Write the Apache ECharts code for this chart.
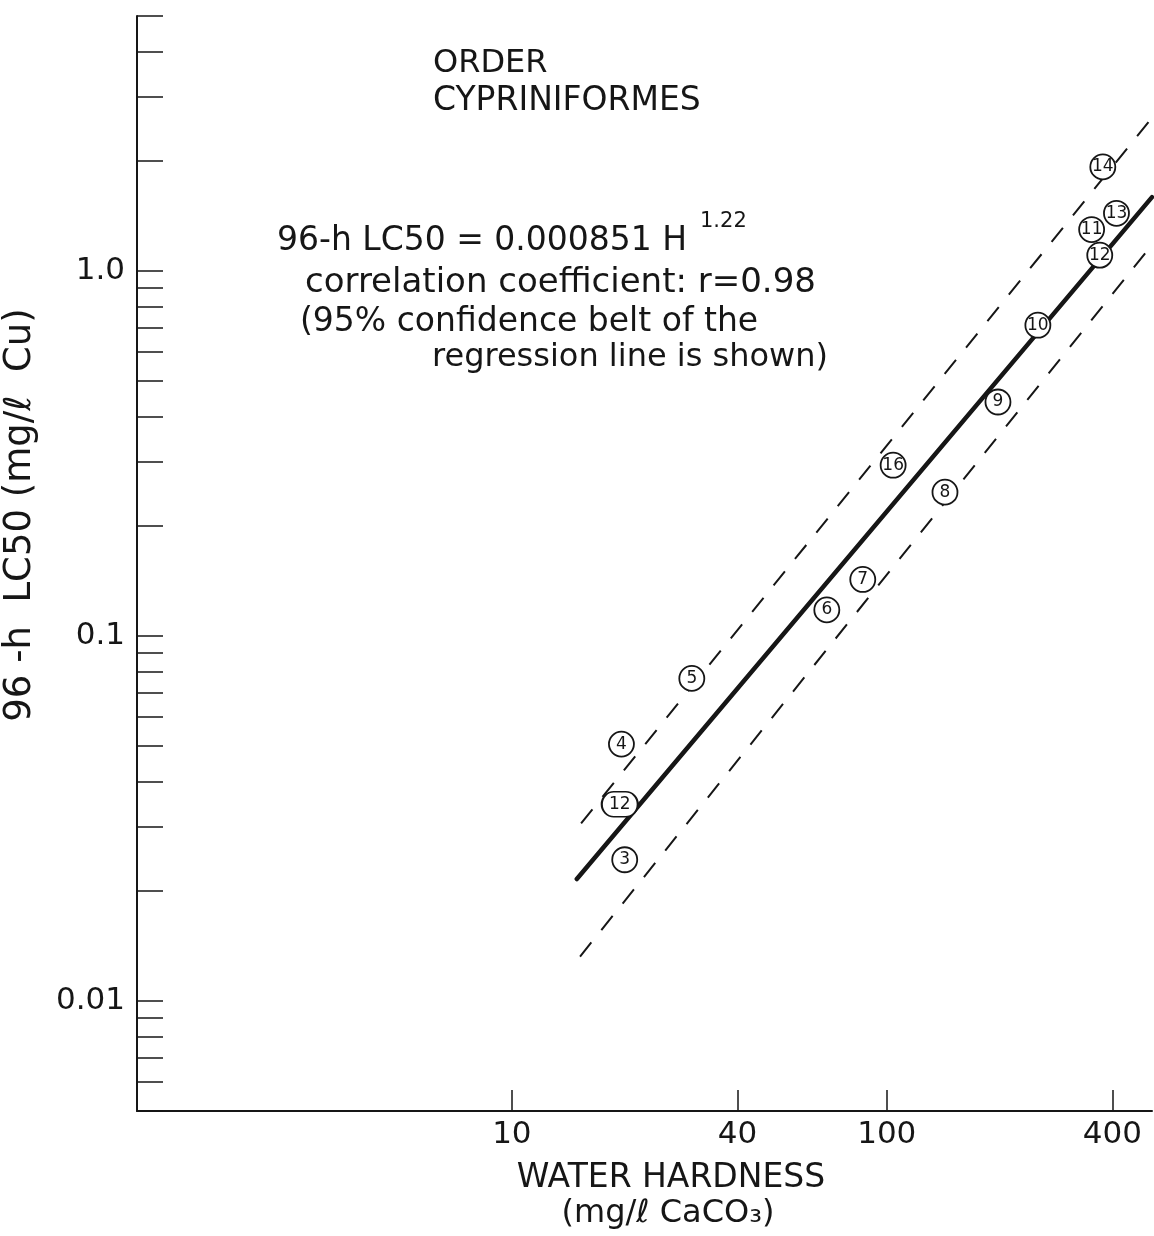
<!DOCTYPE html>
<html><head><meta charset="utf-8">
<script src="https://cdn.jsdelivr.net/npm/echarts@6/dist/echarts.min.js"></script>
<style>html,body{margin:0;padding:0;background:#fff}#c{width:1154px;height:1236px}</style>
</head><body><div id="c"></div>
<script>
// ---- data ----
const hardness = [20.0, 19.6, 30.2, 69.2, 86.3, 143, 198, 253, 352, 19.4, 370, 410, 377, 104];
const lc50 = [0.0244, 0.0506, 0.0766, 0.118, 0.143, 0.248, 0.438, 0.711, 1.30, 0.0346, 1.106, 1.44, 1.93, 0.294];
const pointIds = ['3', '4', '5', '6', '7', '8', '9', '10', '11', '12', '12', '13', '14', '16'];
const regressionLine = [[14.9, 0.0216], [510, 1.595]];
const upperBelt = [[15.3, 0.0307], [502, 2.58]];
const lowerBelt = [[15.2, 0.01325], [510, 1.18]];
const xTickValues = [10, 40, 100, 400];
const yLabelValues = [0.01, 0.1, 1];
const yTickValues = [0.005, 0.006, 0.007, 0.008, 0.009, 0.01, 0.02, 0.03, 0.04, 0.05, 0.06, 0.07, 0.08, 0.09,
  0.1, 0.2, 0.3, 0.4, 0.5, 0.6, 0.7, 0.8, 0.9, 1, 2, 3, 4, 5];
const yLabelText = {'0.01': '0.01', '0.1': '0.1', '1': '1.0'};

const FONT = "'DejaVu Sans', sans-serif";
const INK = '#161616';
// stadium-shaped marker (two merged circles) for the wide "12" label
const stadium = 'path://M12,0 L24,0 C30.63,0 36,5.37 36,12 C36,18.63 30.63,24 24,24 L12,24 C5.37,24 0,18.63 0,12 C0,5.37 5.37,0 12,0 Z';

const chart = echarts.init(document.getElementById('c'));
const scatterData = hardness.map((h, i) => {
  const d = {value: [h, lc50[i]], name: pointIds[i]};
  if (i === 9) { d.symbol = stadium; d.symbolSize = [36, 25]; }
  return d;
});

const txt = (x, y, text, size, align) => ({
  type: 'text', x, y,
  style: {text, font: `${size}px ${FONT}`, fill: INK, align: align || 'left', verticalAlign: 'middle',
    textAlign: align || 'left', textVerticalAlign: 'middle'}
});

chart.setOption({
  animation: false,
  backgroundColor: '#fff',
  grid: {left: 137, right: 2, top: 16, bottom: 125, containLabel: false},
  xAxis: {
    type: 'log', logBase: 10, min: 1, max: 510,
    axisLine: {show: true, lineStyle: {color: INK, width: 2}},
    axisTick: {show: true, inside: true, length: 21, customValues: xTickValues, lineStyle: {color: INK, width: 1.5}},
    axisLabel: {show: true, customValues: xTickValues, margin: 8, fontFamily: FONT, fontSize: 31, color: INK,
      formatter: v => String(Math.round(v))},
    splitLine: {show: false}, minorTick: {show: false}
  },
  yAxis: {
    type: 'log', logBase: 10, min: 0.005, max: 5,
    axisLine: {show: true, lineStyle: {color: INK, width: 2}},
    axisTick: {show: true, inside: true, length: 26, customValues: yTickValues, lineStyle: {color: INK, width: 1.5}},
    axisLabel: {show: true, customValues: yLabelValues, margin: 12, fontFamily: FONT, fontSize: 31, color: INK,
      formatter: v => {
        const k = String(+(+v).toPrecision(3));
        return yLabelText[k] !== undefined ? yLabelText[k] : k;
      }},
    splitLine: {show: false}, minorTick: {show: false}
  },
  series: [
    {type: 'line', data: regressionLine, symbol: 'none', lineStyle: {color: INK, width: 4.5, cap: 'round'}, z: 2, silent: true},
    {type: 'line', data: upperBelt, symbol: 'none', lineStyle: {color: INK, width: 2, type: [18, 16]}, z: 2, silent: true},
    {type: 'line', data: lowerBelt, symbol: 'none', lineStyle: {color: INK, width: 2, type: [18, 16]}, z: 2, silent: true},
    {type: 'scatter', data: scatterData, symbol: 'circle', symbolSize: 25, z: 5,
      itemStyle: {color: '#fff', borderColor: INK, borderWidth: 1.8, opacity: 1},
      label: {show: true, position: 'inside', formatter: p => p.name, fontFamily: FONT, fontSize: 17, color: INK}}
  ],
  graphic: [
    txt(433, 64, 'ORDER', 32),
    txt(433, 101, 'CYPRINIFORMES', 33),
    txt(277, 241, '96-h LC50 = 0.000851 H', 33),
    txt(700, 222, '1.22', 21),
    txt(305, 283, 'correlation coefficient: r=0.98', 34),
    txt(300, 322, '(95% confidence belt of the', 33),
    txt(432, 358, 'regression line is shown)', 32),
    txt(671, 1178, 'WATER HARDNESS', 33, 'center'),
    txt(668, 1214, '(mg/ℓ CaCO₃)', 32, 'center'),
    Object.assign(txt(20, 515, '96 -h  LC50 (mg/ℓ  Cu)', 37, 'center'), {rotation: Math.PI / 2})
  ]
});
</script>
</body></html>
